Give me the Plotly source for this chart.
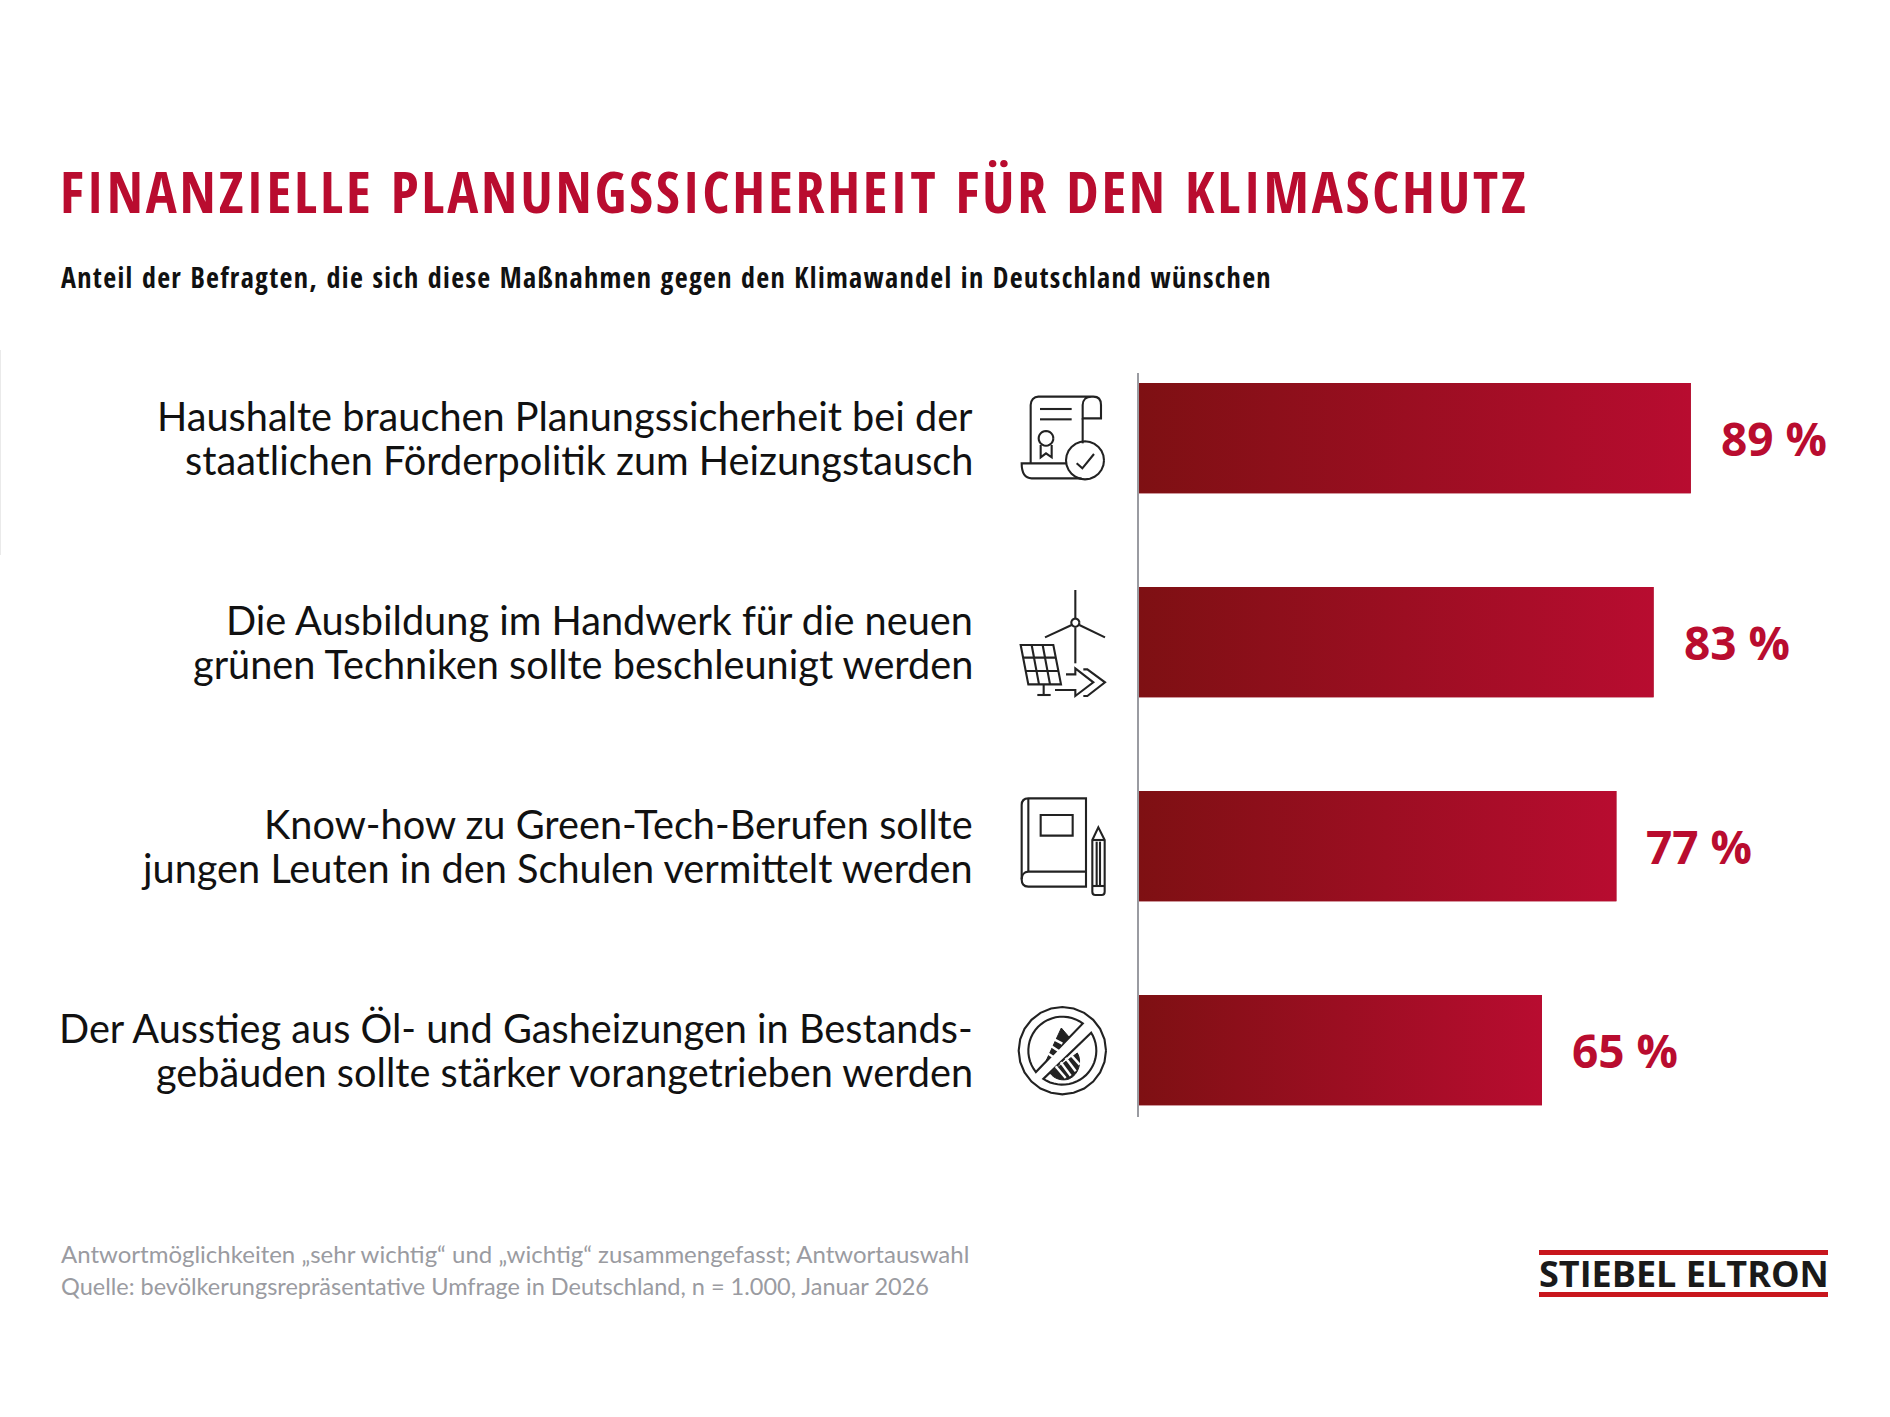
import re
import numpy as np
import plotly.graph_objects as go

labels_top = [
    "Haushalte brauchen Planungssicherheit bei der",
    "Die Ausbildung im Handwerk für die neuen",
    "Know-how zu Green-Tech-Berufen sollte",
    "Der Ausstieg aus Öl- und Gasheizungen in Bestands-",
]
labels_bottom = [
    "staatlichen Förderpolitik zum Heizungstausch",
    "grünen Techniken sollte beschleunigt werden",
    "jungen Leuten in den Schulen vermittelt werden",
    "gebäuden sollte stärker vorangetrieben werden",
]
values = [89, 83, 77, 65]

W, H = 1890, 1417
RED = "#B90C2F"
BODY = "Lato"
HEAD = "Open Sans Condensed"
bar_half = 0.27

fig = go.Figure()

# bars: solid bar below, gradient fill on top (plotly bars have no gradient)
fig.add_trace(go.Bar(
    x=values, y=list(range(len(values))), orientation="h", width=bar_half * 2,
    marker=dict(color="#9C1022", line=dict(width=0)), showlegend=False,
))
for i, v in enumerate(values):
    fig.add_trace(go.Scatter(
        x=[0, v, v, 0, 0],
        y=[i - bar_half, i - bar_half, i + bar_half, i + bar_half, i - bar_half],
        mode="lines", line=dict(width=0), fill="toself",
        fillgradient=dict(type="horizontal", colorscale=[[0, "#7E1013"], [1, "#B80C30"]]),
        showlegend=False,
    ))
# overlay axes in page pixels for the title block, footer, logo and icons
fig.add_trace(go.Scatter(x=[None], y=[None], xaxis="x2", yaxis="y2", showlegend=False))

annotations = []


def text(x, y, s, size, color="#111111", family=BODY, weight=None, anchor="left"):
    annotations.append(dict(
        x=x, y=y, xref="x2", yref="y2", text=s, showarrow=False, xanchor=anchor, yanchor="middle",
        align="left", font=dict(size=size, color=color, family=family, weight=weight),
    ))


text(58, 190, "FINANZIELLE PLANUNGSSICHERHEIT FÜR DEN KLIMASCHUTZ", 58, RED, family=HEAD, weight=700)
text(59, 277, "Anteil der Befragten, die sich diese Maßnahmen gegen den Klimawandel in Deutschland wünschen", 28, family=HEAD, weight=700)
text(59, 1253, "Antwortmöglichkeiten „sehr wichtig“ und „wichtig“ zusammengefasst; Antwortauswahl", 24, "#9A9BA1")
text(59, 1286, "Quelle: bevölkerungsrepräsentative Umfrage in Deutschland, n = 1.000, Januar 2026", 23.5, "#9A9BA1")
text(1684, 1273, "STIEBEL ELTRON", 36, "#1A1A1A", family="Open Sans", weight=700, anchor="center")

for i, v in enumerate(values):
    annotations.append(dict(
        x=v, y=i, xref="x", yref="y", text=f"{v} %", showarrow=False, xanchor="left", xshift=28,
        font=dict(size=46, color=RED, family="Open Sans", weight=700),
    ))
    for s, shift in ((labels_top[i], 23), (labels_bottom[i], -21)):
        annotations.append(dict(
            x=975, xref="x2", y=i, yref="y", yshift=shift, text=s, showarrow=False,
            xanchor="right", yanchor="middle",
            font=dict(size=39.7, color="#111111", family=BODY),
        ))

shapes = []


def crop(d, ox, oy):
    n = [0]

    def conv(m):
        val = float(m.group())
        n[0] += 1
        return f"{(ox if n[0] % 2 else oy) + val / 3:.2f}"
    return re.sub(r"-?\d+\.?\d*", conv, d)


def arc(cx, cy, r, a0, a1):
    pts = []
    for k, a in enumerate(np.radians(np.linspace(a0, a1, 25))):
        pts.append(f"{'L' if k else 'M'}{cx + r * np.cos(a):.1f},{cy + r * np.sin(a):.1f}")
    return " ".join(pts)


def icon(ox, oy, paths, width=2.1, color="#222222", fill=None):
    for d in paths:
        shapes.append(dict(
            type="path", path=crop(d, ox, oy), xref="x2", yref="y2",
            line=dict(color=color, width=width), fillcolor=fill or "rgba(0,0,0,0)",
        ))


# certificate
icon(1000, 380, [
    "M92,250 L92,75 C92,60 102,50 115,50 L280,50 C295,50 303,60 303,75 L303,115 L248,115 L248,75 C248,60 258,50 275,50",
    "M248,115 L248,190",
    "M200,250 L65,250 C65,280 75,295 95,295 L245,295",
    "M120,87 L215,87", "M120,118 L215,118",
    "M122,195 L122,232 L138,220 L155,232 L155,195",
    arc(138, 175, 22, 0, 360),
    arc(255, 241, 57, 0, 360),
    "M230,250 L247,265 L282,222",
])
# turbine, solar panel, arrows
icon(1000, 380, [
    "M226,630 L226,716", "M226,742 L226,850",
    arc(226, 728, 12, 0, 360),
    "M215,735 L135,772", "M238,735 L315,772",
    "M62,795 L160,795 L183,913 L85,913 Z",
    "M70,833 L168,833", "M77,873 L175,873",
    "M95,795 L117,913", "M128,795 L150,913",
    "M131,913 L131,945", "M112,945 L152,945",
    "M198,883 L226,883 L226,865 L280,907 L226,948 L226,930 L165,930",
    "M250,868 L262,868 L315,907 L262,948 L250,948",
])
# book and pencil
icon(1000, 780, [
    "M85,55 L258,55 L258,320 L85,320 C70,320 65,310 65,298 L65,75 C65,62 72,55 85,55 Z",
    "M85,55 L85,275", "M258,275 L85,275 C72,275 65,285 65,298",
    "M122,105 L218,105 L218,167 L122,167 Z",
    "M277,180 L295,142 L314,180 L314,335 C314,342 310,345 305,345 L286,345 C281,345 277,342 277,335 Z",
    "M277,180 L314,180", "M290,185 L290,315", "M300,185 L300,315", "M277,318 L314,318",
])
# no fossil fuels sign
icon(1014, 1003, [
    arc(145, 143, 131, 0, 360),
    arc(145, 143, 102, 141, 307) + " Z",
    arc(145, 143, 102, -32, 124) + " Z",
])
icon(1014, 1003, [
    "M142,75 L97,172 L165,102 Z",
    "M108,210 L190,150 C205,175 195,215 165,228 C145,235 120,228 108,210 Z",
], fill="#222222", width=1)
for d in ["M122,110 L145,122", "M112,130 L135,145", "M103,152 L118,162",
          "M125,190 L155,225", "M140,178 L170,218", "M155,165 L185,205", "M170,155 L197,185"]:
    icon(1014, 1003, [d], width=2.4, color="#FFFFFF")

# logo lines
for y0, y1 in ((1250, 1255), (1292, 1297)):
    shapes.append(dict(type="rect", x0=1539, x1=1828, y0=y0, y1=y1, xref="x2", yref="y2",
                       line=dict(width=0), fillcolor="#C8161D"))
# faint scan edge on the left of the source image
shapes.append(dict(type="rect", x0=0, x1=1, y0=350, y1=555, xref="x2", yref="y2",
                   line=dict(width=0), fillcolor="#EAEAEA"))

fig.update_layout(
    width=W, height=H, margin=dict(l=0, r=0, t=0, b=0),
    paper_bgcolor="white", plot_bgcolor="rgba(0,0,0,0)",
    barmode="overlay", showlegend=False,
    xaxis=dict(domain=[1139 / W, 1], range=[0, (W - 1139) / 6.2], visible=False, fixedrange=True),
    yaxis=dict(
        domain=[1 - 1117 / H, 1 - 373 / H], range=[3.328, -0.319], showgrid=False, zeroline=False,
        showticklabels=False, ticks="", showline=True, linecolor="#9A9BA1", linewidth=2, fixedrange=True,
    ),
    xaxis2=dict(domain=[0, 1], range=[0, W], visible=False, anchor="y2", fixedrange=True),
    yaxis2=dict(domain=[0, 1], range=[H, 0], visible=False, anchor="x2", fixedrange=True),
    annotations=annotations, shapes=shapes,
)

# plotly has no letter spacing option, the condensed headings need it to run as wide as the original
spacing = """
document.body.style.margin = '0';
document.querySelectorAll('.annotation-text').forEach(function (t) {
    if (t.style.fontFamily.indexOf('Condensed') >= 0) t.style.letterSpacing = '0.048em';
});
"""
fig.write_html("out.html", config={"displayModeBar": False}, post_script=spacing)
